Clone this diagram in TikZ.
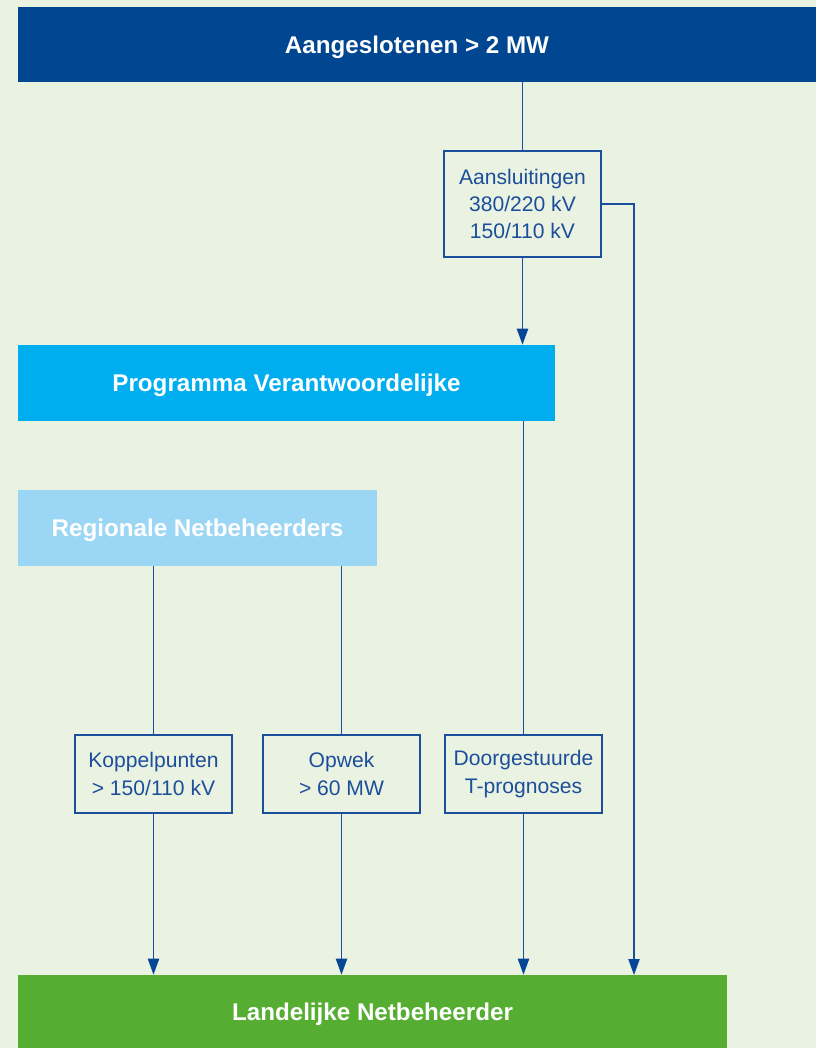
\documentclass[tikz,border=0pt]{standalone}
\usepackage{fontspec}
\setmainfont{Liberation Sans}
\usepackage{tikz}
\usetikzlibrary{arrows.meta}
\definecolor{bggreen}{RGB}{234,243,226}
\definecolor{darkblue}{RGB}{0,70,145}
\definecolor{cyanblue}{RGB}{0,174,239}
\definecolor{lightblue}{RGB}{155,215,245}
\definecolor{barGreen}{RGB}{85,174,50}
\definecolor{lineblue}{RGB}{28,78,155}
\definecolor{tipblue}{RGB}{5,70,150}
\tikzset{
	bar/.style={inner sep=0pt, minimum height=1.9cm, text=white, text depth=0pt, font=\fontsize{17.2}{20}\selectfont\bfseries},
	infobox/.style={draw=lineblue, line width=1.1pt, fill=bggreen, text=lineblue, align=center, inner sep=0pt,
		minimum width=3.925cm, font=\fontsize{15}{19.4}\selectfont},
	link/.style={draw=lineblue, line width=1.1pt},
	arrowlink/.style={link, -{Triangle[length=4mm,width=2.8mm,color=tipblue]}}
}
\begin{document}
\begin{tikzpicture}[x=0.025cm,y=-0.025cm]
	\fill[bggreen] (0,0) rectangle (816,1048);
	\useasboundingbox (0,0) rectangle (816,1048);
	
	\node[bar, fill=darkblue, minimum width=19.95cm, minimum height=1.875cm] (top) at (417,44.5) {Aangeslotenen > 2 MW};
	\node[bar, fill=cyanblue, minimum width=13.425cm] (prog) at (286.5,383) {Programma Verantwoordelijke};
	\node[bar, fill=lightblue, minimum width=8.975cm] (reg) at (197.5,528) {Regionale Netbeheerders};
	\node[bar, fill=barGreen, minimum width=17.725cm, minimum height=1.825cm] (land) at (372.5,1011.5) {Landelijke Netbeheerder};
	
	\node[infobox, minimum height=2.65cm] (aans) at (522.5,204) {Aansluitingen\\380/220 kV\\150/110 kV};
	\node[infobox, minimum height=1.95cm] (kop) at (153.5,774) {Koppelpunten\\> 150/110 kV};
	\node[infobox, minimum height=1.95cm] (opw) at (341.5,774) {Opwek\\> 60 MW};
	\node[infobox, minimum height=1.95cm] (door) at (523.5,774) {Doorgestuurde\\T-prognoses};
	
	\coordinate (rline) at (634,975);
	
	\draw[link] (aans.north |- top.south) -- (aans.north);
	\draw[arrowlink] (aans.south) -- (aans.south |- prog.north);
	\draw[arrowlink] (aans.east) -| (rline);
	\draw[link] (door.north |- prog.south) -- (door.north);
	\draw[link] (kop.north |- reg.south) -- (kop.north);
	\draw[link] (opw.north |- reg.south) -- (opw.north);
	\draw[arrowlink] (kop.south) -- (kop.south |- land.north);
	\draw[arrowlink] (opw.south) -- (opw.south |- land.north);
	\draw[arrowlink] (door.south) -- (door.south |- land.north);
\end{tikzpicture}
\end{document}
